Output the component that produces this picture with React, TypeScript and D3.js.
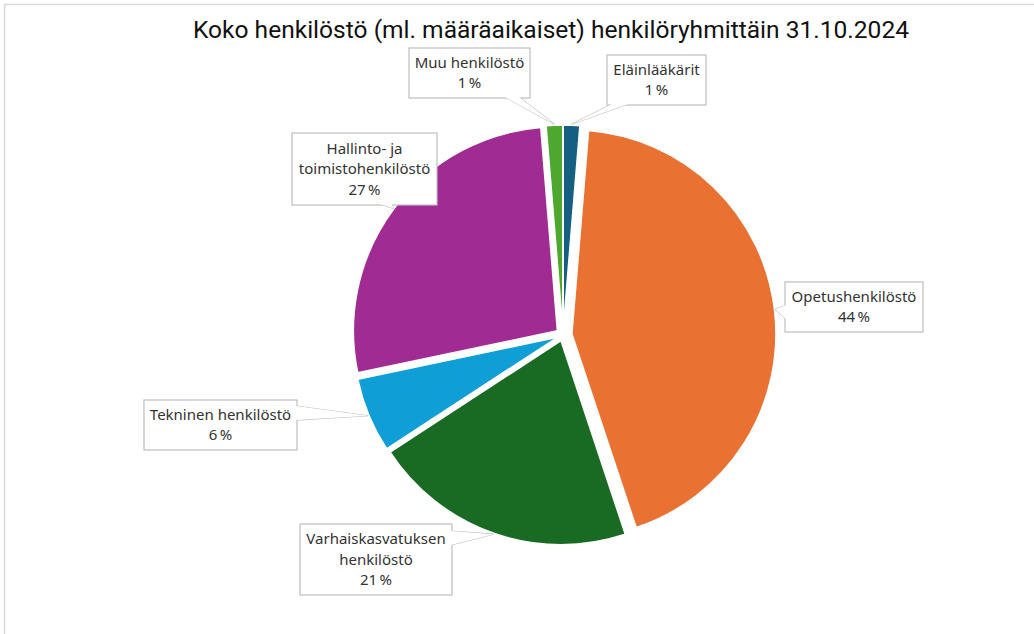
import React from "react";
import * as d3 from "d3";

const categories = [
  "Eläinlääkärit",
  "Opetushenkilöstö",
  "Varhaiskasvatuksen henkilöstö",
  "Tekninen henkilöstö",
  "Hallinto- ja toimistohenkilöstö",
  "Muu henkilöstö",
];
const values = [1.3, 43.6, 20.9, 5.9, 27.0, 1.3];
const labelLines = [
  ["Eläinlääkärit"],
  ["Opetushenkilöstö"],
  ["Varhaiskasvatuksen", "henkilöstö"],
  ["Tekninen henkilöstö"],
  ["Hallinto- ja", "toimistohenkilöstö"],
  ["Muu henkilöstö"],
];
const colors = ["#156082", "#E97132", "#196B24", "#0F9ED5", "#A02B93", "#4EA72E"];
const title = "Koko henkilöstö (ml. määräaikaiset) henkilöryhmittäin 31.10.2024";

// layout of callout boxes: x, y, w, h, side of pointer, base center, base half width
const boxes = [
  { x: 607, y: 55, w: 99, h: 50, side: "bottom", base: 620, hw: 8 },
  { x: 785, y: 282, w: 138, h: 50, side: "left", base: 312, hw: 7 },
  { x: 300, y: 524, w: 152, h: 71, side: "right", base: 538, hw: 7 },
  { x: 144, y: 400, w: 153, h: 50, side: "right", base: 413, hw: 7 },
  { x: 292, y: 133, w: 145, h: 72, side: "bottom", base: 386, hw: 6 },
  { x: 409, y: 48, w: 121, h: 50, side: "bottom", base: 512, hw: 7 },
];

const W = 1034;
const H = 634;
const cx = 563;
const cy = 335;
const R = 204;
const offsets = [6, 9, 6, 6, 7, 6];

export default function App() {
  const total = d3.sum(values);
  const pie = d3.pie<number>().sort(null).value((d) => d);
  const arcs = pie(values);
  const arcGen = d3.arc<d3.PieArcDatum<number>>().innerRadius(0).outerRadius(R);
  const fmt = (v: number) => `${Math.round((v / total) * 100)}\u202f%`;

  return (
    <svg
      width={W}
      height={H}
      style={{ position: "absolute", left: 0, top: 0, background: "#fff" }}
      fontFamily="'Noto Sans', sans-serif"
    >
      <rect x={4.5} y={4.5} width={W + 20} height={H + 20} fill="#fff" stroke="#d9d9d9" strokeWidth={1.5} />
      <text
        x={551}
        y={38}
        textAnchor="middle"
        fontSize={23}
        fontFamily="Roboto, sans-serif"
        fill="#111"
        textLength={716}
        lengthAdjust="spacingAndGlyphs"
      >
        {title}
      </text>
      <g>
        {arcs.map((a, i) => {
          const mid = (a.startAngle + a.endAngle) / 2;
          const dx = Math.sin(mid) * offsets[i];
          const dy = -Math.cos(mid) * offsets[i];
          return (
            <path
              key={categories[i]}
              d={arcGen(a) || ""}
              transform={`translate(${cx + dx},${cy + dy})`}
              fill={colors[i]}
              stroke="#fff"
              strokeWidth={1.5}
            />
          );
        })}
      </g>
      <g>
        {arcs.map((a, i) => {
          const b = boxes[i];
          const mid = (a.startAngle + a.endAngle) / 2;
          const rr = R + offsets[i] + 1;
          const tx = cx + Math.sin(mid) * rr;
          const ty = cy - Math.cos(mid) * rr;
          let p1: [number, number], p2: [number, number];
          if (b.side === "bottom") {
            p1 = [b.base - b.hw, b.y + b.h - 1];
            p2 = [b.base + b.hw, b.y + b.h - 1];
          } else if (b.side === "top") {
            p1 = [b.base - b.hw, b.y + 1];
            p2 = [b.base + b.hw, b.y + 1];
          } else if (b.side === "left") {
            p1 = [b.x + 1, b.base - b.hw];
            p2 = [b.x + 1, b.base + b.hw];
          } else {
            p1 = [b.x + b.w - 1, b.base - b.hw];
            p2 = [b.x + b.w - 1, b.base + b.hw];
          }
          const lines = [...labelLines[i], fmt(values[i])];
          const lh = 20.5;
          const startY = b.y + b.h / 2 - ((lines.length - 1) * lh) / 2 + 5;
          return (
            <g key={categories[i]}>
              <polygon
                points={`${p1[0]},${p1[1]} ${tx},${ty} ${p2[0]},${p2[1]}`}
                fill="#fff"
                stroke="#bfbfbf"
                strokeWidth={1.2}
              />
              <rect x={b.x} y={b.y} width={b.w} height={b.h} fill="#fff" stroke="#bfbfbf" strokeWidth={1.2} />
              <polygon
                points={`${p1[0]},${p1[1]} ${tx},${ty} ${p2[0]},${p2[1]}`}
                fill="#fff"
                stroke="none"
              />
              {lines.map((ln, j) => (
                <text
                  key={j}
                  x={b.x + b.w / 2}
                  y={startY + j * lh}
                  textAnchor="middle"
                  fontSize={15}
                  fill="#333"
                >
                  {ln}
                </text>
              ))}
            </g>
          );
        })}
      </g>
    </svg>
  );
}
